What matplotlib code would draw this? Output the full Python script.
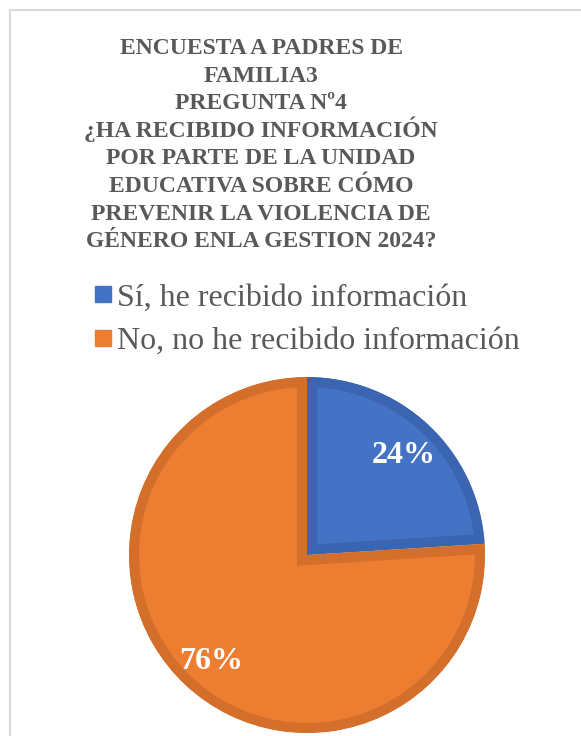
import matplotlib
matplotlib.use("Agg")
import matplotlib.pyplot as plt
from matplotlib.lines import Line2D
from matplotlib.patches import Rectangle

# ── Data ──────────────────────────────────────────────────────────────────────
labels = ["Sí, he recibido información", "No, no he recibido información"]
values = [24, 76]
fills  = ["#4472C4", "#ED7D31"]
edges  = ["#3B65B0", "#D46F2B"]
title_lines = [
    "ENCUESTA A PADRES DE",
    "FAMILIA3",
    "PREGUNTA Nº4",
    "¿HA RECIBIDO INFORMACIÓN",
    "POR PARTE DE LA UNIDAD",
    "EDUCATIVA SOBRE CÓMO",
    "PREVENIR LA VIOLENCIA DE",
    "GÉNERO ENLA GESTION 2024?",
]

W, H = 581, 736
fig = plt.figure(figsize=(W / 100, H / 100), dpi=100)
fig.patch.set_facecolor("white")

# light chart-area frame (cut off at right and bottom)
fig.add_artist(Rectangle((10 / W, -0.1), 1.2, (H - 10) / H + 0.1,
                         transform=fig.transFigure, fill=False,
                         edgecolor="#D9D9D9", lw=1.5))

serif = ["Liberation Serif", "DejaVu Serif"]
grey = "#595959"

# ── Title (one text per line so accents don't stretch the spacing) ────────────
first_base, step = 54, 27.6
for i, line in enumerate(title_lines):
    fig.text(261 / W, 1 - (first_base + i * step) / H, line, ha="center",
             va="baseline", fontsize=17, fontweight="bold", color=grey,
             family=serif)

# ── Pie ───────────────────────────────────────────────────────────────────────
cx, cy, r = 307, 555, 178
ax = fig.add_axes([(cx - r) / W, (H - cy - r) / H, 2 * r / W, 2 * r / H])
wedges, _, autotexts = ax.pie(values, colors=fills, startangle=90,
                              counterclock=False, autopct="%1.0f%%",
                              pctdistance=0.79,
                              wedgeprops=dict(linewidth=14.5))
for w, ec in zip(wedges, edges):
    w.set_edgecolor(ec)
    w.set_clip_path(w)  # keep the thick border inside the slice
    w.set_clip_on(True)
for t in autotexts:
    t.set_color("white")
    t.set_fontsize(23)
    t.set_fontweight("bold")
    t.set_family(serif)
    t.set_va("center_baseline")
ax.set_xlim(-1, 1)
ax.set_ylim(-1, 1)
ax.set_aspect("equal")
ax.axis("off")

# ── Legend ────────────────────────────────────────────────────────────────────
handles = [Line2D([], [], marker="s", linestyle="none", markersize=11,
                  markerfacecolor=c, markeredgecolor=c) for c in fills]
fig.legend(handles, labels, loc="upper left",
           bbox_to_anchor=(93 / W, 1 - 283 / H), frameon=False,
           prop={"family": serif, "size": 23}, labelcolor=grey,
           handlelength=0.6, handletextpad=0.15, labelspacing=0.45,
           borderaxespad=0, borderpad=0)

fig.savefig("out.png", dpi=100)
